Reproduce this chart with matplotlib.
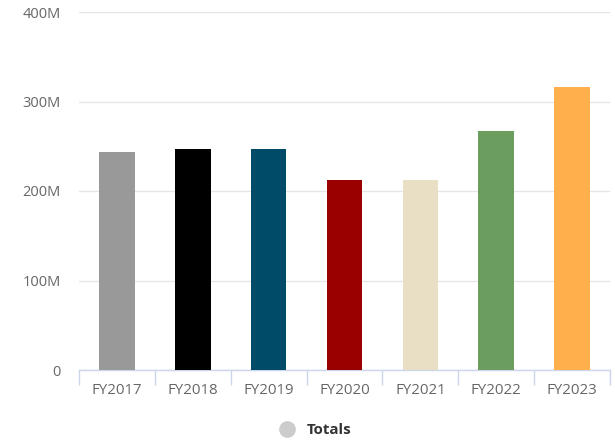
import matplotlib
matplotlib.use("Agg")
import matplotlib.pyplot as plt
from matplotlib.lines import Line2D
from matplotlib.ticker import FixedLocator, FuncFormatter

categories = ["FY2017", "FY2018", "FY2019", "FY2020", "FY2021", "FY2022", "FY2023"]
totals_m = [244, 247, 247, 212, 212, 267, 316]
bar_colors = ["#999999", "#000000", "#004b68", "#990000", "#e8dfc4", "#6b9e5e", "#ffb04d"]
y_ticks_m = [0, 100, 200, 300, 400]
series_name = "Totals"

plt.rcParams["font.family"] = ["Open Sans", "DejaVu Sans"]

fig = plt.figure(figsize=(6.15, 4.42), dpi=100)
ax = fig.add_axes([79 / 615, 72 / 442, 531 / 615, 358 / 442])

x = list(range(len(categories)))
ax.bar(x, totals_m, width=0.47, color=bar_colors, zorder=3)

ax.set_xlim(-0.5, len(categories) - 0.5)
ax.set_ylim(0, 400)

ax.yaxis.set_major_locator(FixedLocator(y_ticks_m))
ax.yaxis.set_major_formatter(FuncFormatter(lambda v, p: "0" if v == 0 else f"{int(v)}M"))
ax.grid(axis="y", color="#e6e6e6", linewidth=1, zorder=0)
ax.tick_params(axis="y", length=0, pad=13, labelsize=10.5, labelcolor="#666666")

ax.set_xticks(x)
ax.set_xticklabels(categories)
ax.tick_params(axis="x", which="major", length=0, pad=9, labelsize=10.8, labelcolor="#666666")
ax.set_xticks([i - 0.5 for i in range(len(categories) + 1)], minor=True)
ax.tick_params(axis="x", which="minor", length=11, width=1, color="#ccd6eb", direction="out")

for side in ("top", "right", "left"):
    ax.spines[side].set_visible(False)
ax.spines["bottom"].set_color("#ccd6eb")
ax.spines["bottom"].set_linewidth(1)

handle = Line2D([], [], marker="o", linestyle="none", markersize=11,
                markerfacecolor="#cccccc", markeredgecolor="#cccccc")
leg = fig.legend([handle], [series_name], loc="center", bbox_to_anchor=(312 / 615, 1 - 430 / 442),
                 frameon=False, handletextpad=0.3, prop={"weight": "bold", "size": 10.8})
for t in leg.get_texts():
    t.set_color("#333333")

fig.savefig("out.png", dpi=100, facecolor="white")
